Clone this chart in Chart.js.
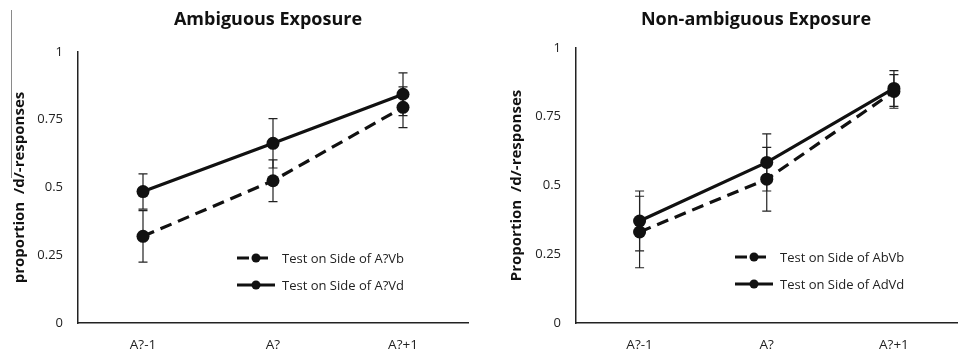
<!DOCTYPE html>
<html>
<head>
<meta charset="utf-8">
<script src="https://cdn.jsdelivr.net/npm/chart.js@4.4.1/dist/chart.umd.min.js"></script>
<style>
    body { margin: 0; background: #fff; width: 961px; height: 356px; overflow: hidden; position: relative; }
    .panel { position: absolute; top: 0; height: 356px; }
    #leftPanel { left: 0; width: 480px; }
    #rightPanel { left: 480px; width: 484px; }
    .scan-line { position: absolute; left: 11px; top: 10px; width: 1px; height: 168px; background: #8a8a8a; }
</style>
</head>
<body>
<div class="panel" id="leftPanel"><canvas id="ambigChart" width="480" height="356"></canvas></div>
<div class="panel" id="rightPanel"><canvas id="nonAmbigChart" width="484" height="356"></canvas></div>
<div class="scan-line"></div>
<script>
// Datos
const categories = ['A?-1', 'A?', 'A?+1'];
const yTickLabels = ['0', '0.25', '0.5', '0.75', '1'];
const yTickValues = [0, 0.25, 0.5, 0.75, 1];

// Ambiguous Exposure
const ambigVb = [0.32, 0.525, 0.796];
const ambigVbErr = [0.095, 0.077, 0.075];
const ambigVd = [0.485, 0.663, 0.844];
const ambigVdErr = [0.065, 0.091, 0.079];

// Non-ambiguous Exposure
const nonVb = [0.331, 0.523, 0.842];
const nonVbErr = [0.13, 0.116, 0.061];
const nonVd = [0.371, 0.584, 0.853];
const nonVdErr = [0.109, 0.104, 0.065];

const INK = '#111';
const FONT = "'Open Sans', 'DejaVu Sans', sans-serif";

// Barras de error
const errorBarsPlugin = {
    id: 'errorBars',
    beforeDatasetsDraw(chart) {
        const { ctx, scales: { x, y } } = chart;
        ctx.save();
        ctx.strokeStyle = '#222';
        ctx.lineWidth = 1.2;
        chart.data.datasets.forEach(ds => {
            ds.data.forEach((v, i) => {
                const px = x.getPixelForValue(i);
                const top = y.getPixelForValue(v + ds.err[i]);
                const bot = y.getPixelForValue(v - ds.err[i]);
                ctx.beginPath();
                ctx.moveTo(px, top); ctx.lineTo(px, bot);
                ctx.moveTo(px - 4.5, top); ctx.lineTo(px + 4.5, top);
                ctx.moveTo(px - 4.5, bot); ctx.lineTo(px + 4.5, bot);
                ctx.stroke();
            });
        });
        ctx.restore();
    }
};

// Título del panel y leyenda dentro del área
const panelDecorPlugin = {
    id: 'panelDecor',
    afterDraw(chart, args, opts) {
        const { ctx, chartArea } = chart;
        ctx.save();
        ctx.fillStyle = INK;
        ctx.font = `bold 18px ${FONT}`;
        ctx.textAlign = 'center';
        ctx.textBaseline = 'middle';
        ctx.fillText(opts.title, opts.titleX, opts.titleY);

        ctx.font = `13px ${FONT}`;
        ctx.textAlign = 'left';
        chart.data.datasets.forEach((ds, i) => {
            const y = chartArea.top + opts.legendTop + i * 27;
            const x0 = chartArea.left + opts.legendLeft;
            ctx.strokeStyle = INK;
            ctx.lineWidth = 3;
            ctx.setLineDash(ds.borderDash || []);
            ctx.beginPath();
            ctx.moveTo(x0, y); ctx.lineTo(x0 + 38, y);
            ctx.stroke();
            ctx.setLineDash([]);
            ctx.beginPath();
            ctx.arc(x0 + 19, y, 4.5, 0, Math.PI * 2);
            ctx.fill();
            ctx.fillStyle = '#222';
            ctx.fillText(ds.label, x0 + 45, y + 1);
            ctx.fillStyle = INK;
        });
        ctx.restore();
    }
};

function makeChart(canvasId, cfg) {
    const ctx = document.getElementById(canvasId).getContext('2d');
    return new Chart(ctx, {
        type: 'line',
        data: {
            labels: categories,
            datasets: [
                {
                    label: cfg.labels[0], data: cfg.dashed, err: cfg.dashedErr,
                    borderColor: INK, backgroundColor: INK, borderWidth: 3.2, borderDash: [12, 7],
                    pointRadius: 6.5, pointBackgroundColor: INK, pointBorderWidth: 0, tension: 0
                },
                {
                    label: cfg.labels[1], data: cfg.solid, err: cfg.solidErr,
                    borderColor: INK, backgroundColor: INK, borderWidth: 3.2,
                    pointRadius: 6.5, pointBackgroundColor: INK, pointBorderWidth: 0, tension: 0
                }
            ]
        },
        options: {
            responsive: false,
            animation: false,
            devicePixelRatio: 1,
            layout: { padding: cfg.padding },
            plugins: {
                legend: { display: false },
                tooltip: { enabled: false },
                panelDecor: cfg.decor
            },
            scales: {
                x: {
                    offset: true,
                    grid: { display: false, drawTicks: false },
                    border: { display: true, color: '#222', width: 1.5 },
                    ticks: { color: '#222', font: { family: FONT, size: 13.5 }, padding: 14, maxRotation: 0 },
                    afterFit: s => { s.height = 33; }
                },
                y: {
                    min: 0, max: 1,
                    grid: { display: false, drawTicks: false },
                    border: { display: true, color: '#222', width: 1.5 },
                    ticks: {
                        stepSize: 0.25, color: '#222', padding: 15,
                        font: { family: FONT, size: 13 },
                        callback: v => yTickLabels[yTickValues.indexOf(v)]
                    },
                    title: {
                        display: true, text: cfg.yTitle, color: INK,
                        font: { family: FONT, size: 15, weight: 'bold' },
                        padding: { top: cfg.yTitlePad, bottom: 0 }
                    },
                    afterFit: s => { s.width = cfg.yWidth; }
                }
            }
        },
        plugins: [errorBarsPlugin, panelDecorPlugin]
    });
}

makeChart('ambigChart', {
    labels: ['Test on Side of A?Vb', 'Test on Side of A?Vd'],
    dashed: ambigVb, dashedErr: ambigVbErr,
    solid: ambigVd, solidErr: ambigVdErr,
    yTitle: 'proportion  /d/-responses',
    yTitlePad: 11, yWidth: 78,
    padding: { top: 52, right: 12, bottom: 0, left: 0 },
    decor: { title: 'Ambiguous Exposure', titleX: 268, titleY: 20, legendLeft: 159, legendTop: 206 }
});

makeChart('nonAmbigChart', {
    labels: ['Test on Side of AbVb', 'Test on Side of AdVd'],
    dashed: nonVb, dashedErr: nonVbErr,
    solid: nonVd, solidErr: nonVdErr,
    yTitle: 'Proportion  /d/-responses',
    yTitlePad: 28, yWidth: 96,
    padding: { top: 48, right: 1, bottom: 0, left: 0 },
    decor: { title: 'Non-ambiguous Exposure', titleX: 276, titleY: 20, legendLeft: 159, legendTop: 209 }
});
</script>
</body>
</html>
